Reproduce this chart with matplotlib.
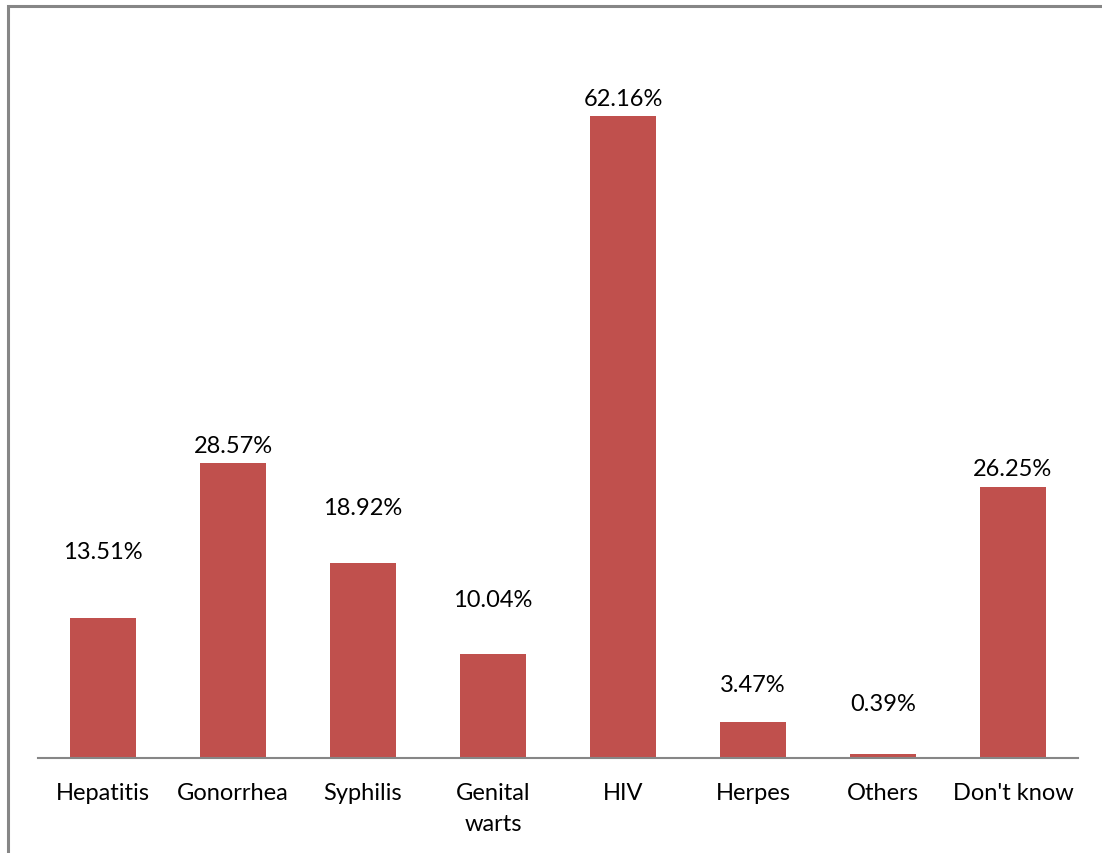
import matplotlib.pyplot as plt
from matplotlib.patches import Rectangle

plt.rcParams["font.family"] = ["Lato", "DejaVu Sans"]

categories = ["Hepatitis", "Gonorrhea", "Syphilis", "Genital\nwarts", "HIV",
              "Herpes", "Others", "Don't know"]
percent = [13.51, 28.57, 18.92, 10.04, 62.16, 3.47, 0.39, 26.25]

# distance (in % units) from each bar top up to the middle of its label
label_gap = [6.5, 1.65, 5.3, 5.3, 1.74, 3.68, 4.84, 1.74]

bar_color = "#C0504D"
axis_color = "#868686"

fig = plt.figure(figsize=(11.02, 8.54), dpi=100)

# outer chart frame
fig.patches.append(Rectangle((8 / 1102, -0.1), 1.2, 1.1 - 7 / 854,
                             transform=fig.transFigure, fill=False,
                             edgecolor=axis_color, linewidth=2.2))

ax = fig.add_axes([38 / 1102, 1 - 759 / 854, 1040 / 1102, 723 / 854])
x = range(len(categories))
ax.bar(x, percent, width=0.515, color=bar_color)

for xi, v, g in zip(x, percent, label_gap):
    ax.text(xi, v + g, f"{v:.2f}%", ha="center", va="center", fontsize=17)

ax.set_xlim(-0.5, len(categories) - 0.5)
ax.set_ylim(0, 70)
ax.set_xticks(list(x))
ax.set_xticklabels(categories, fontsize=17, linespacing=1.6)
ax.tick_params(axis="x", length=0, pad=17)
ax.set_yticks([])
for side in ["left", "right", "top"]:
    ax.spines[side].set_visible(False)
ax.spines["bottom"].set_color(axis_color)
ax.spines["bottom"].set_linewidth(1.5)

fig.savefig("out.png", dpi=100)
